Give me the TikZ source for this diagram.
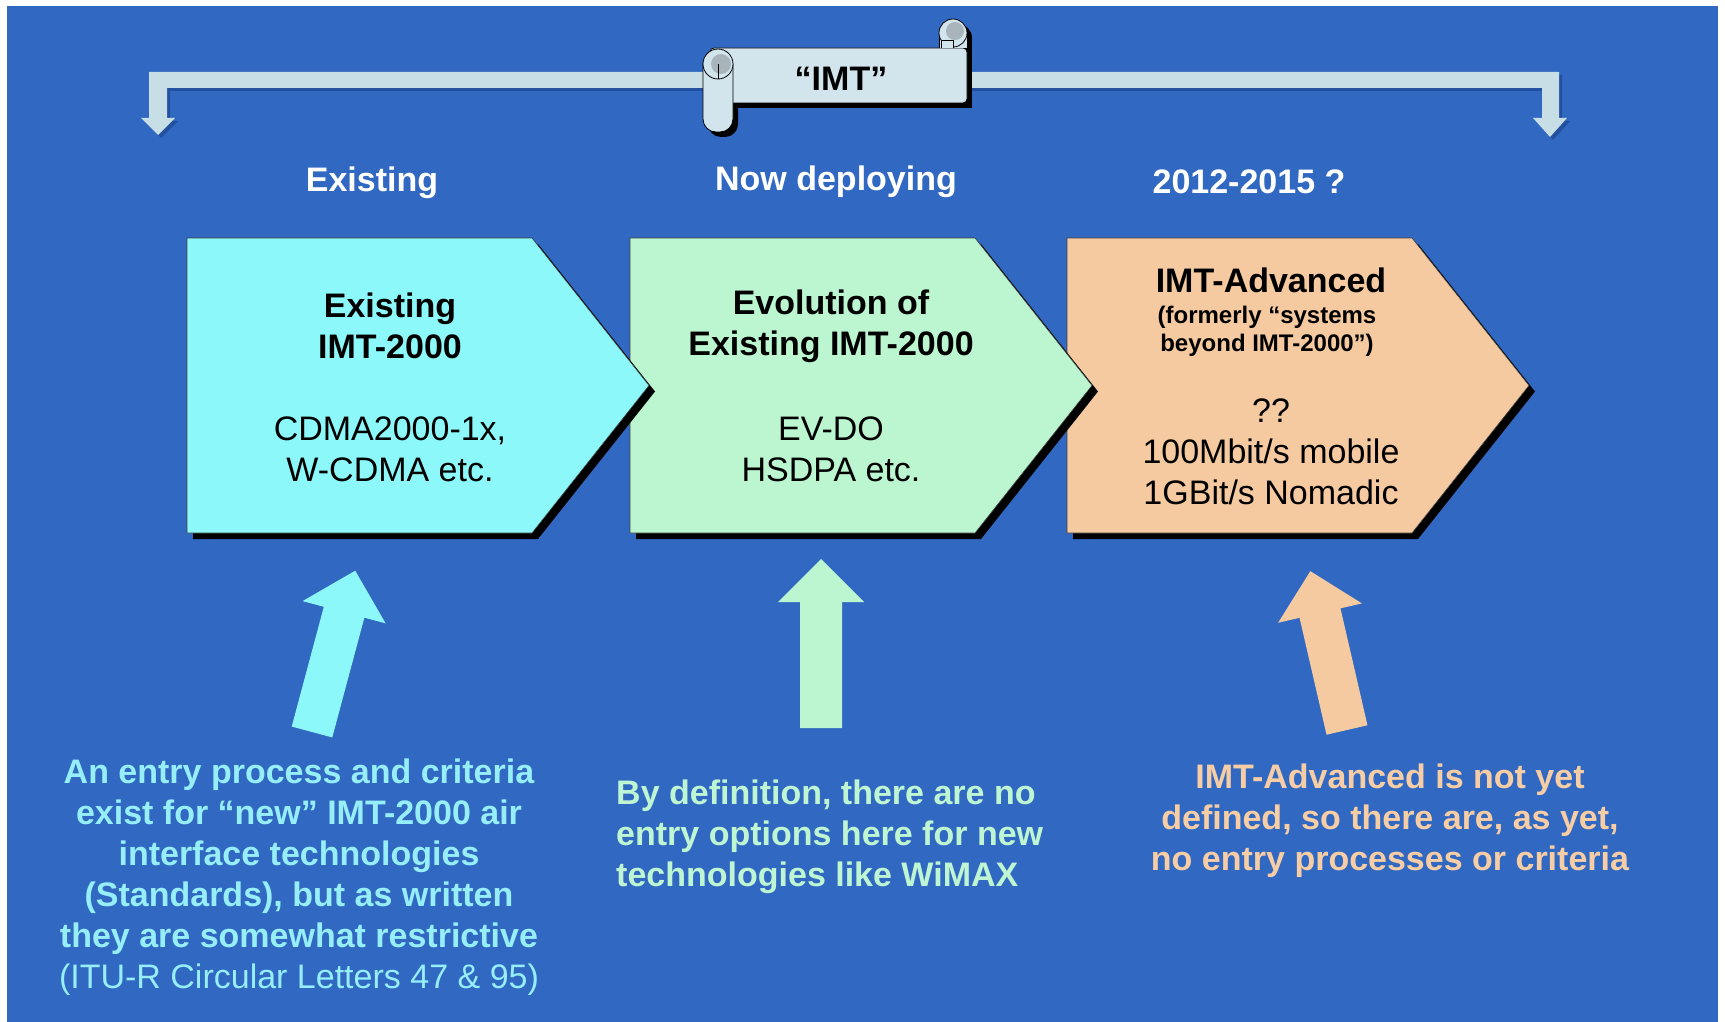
\documentclass[tikz,border=0pt]{standalone}
\usepackage{fontspec}
\setmainfont{Liberation Sans}
\definecolor{bg}{RGB}{49,104,193}
\definecolor{cyanf}{RGB}{140,248,250}
\definecolor{greenf}{RGB}{187,246,208}
\definecolor{peachf}{RGB}{246,202,160}
\definecolor{barc}{RGB}{200,222,230}
\definecolor{barsh}{RGB}{36,80,160}
\definecolor{scrollf}{RGB}{210,228,236}
\definecolor{rollg}{RGB}{168,180,186}
\definecolor{cyant}{RGB}{150,238,248}
\definecolor{greent}{RGB}{190,245,210}
\definecolor{peacht}{RGB}{246,205,165}
\newcommand\bigf{\fontsize{34}{41}\selectfont}
\newcommand\smallf{\fontsize{24}{28}\selectfont}
\newcommand\chevshape[2]{%
  \fill[black] (#1+6,244) -- ++(345,0) -- ++(117,147.5) -- ++(-117,147.5) -- ++(-345,0) -- cycle;
  \filldraw[fill=#2, draw=black!75, line width=0.6pt] (#1,238) -- ++(345,0) -- ++(117,147.5) -- ++(-117,147.5) -- ++(-345,0) -- cycle;}
\newcommand\uparr[5]{%
  \begin{scope}[shift={(#1,#2)},rotate=#3]
  \fill[#5] (-21,0) -- (-21,-#4+43) -- (-43,-#4+43) -- (0,-#4) -- (43,-#4+43) -- (21,-#4+43) -- (21,0) -- cycle;
  \end{scope}}
\begin{document}
\begin{tikzpicture}[x=1pt,y=-1pt,
  head/.style={text=white,font=\bigf\bfseries,inner sep=0pt},
  ttl/.style={text=black,font=\bigf\bfseries,align=center,inner sep=0pt},
  body/.style={text=black,font=\bigf,align=center,inner sep=0pt},
  note/.style={font=\bigf\bfseries,inner sep=0pt}]
\useasboundingbox (0,0) rectangle (1725,1022);
\fill[white] (0,0) rectangle (1725,1022);
\fill[bg] (7,6) rectangle (1718,1022);

% bracket
\fill[barsh] (152,75) -- (1562,75) -- (1562,121) -- (1570,121) -- (1553,140) -- (1536,121) -- (1545,121) -- (1545,91) -- (170,91) -- (170,121) -- (178,121) -- (161,138) -- (144,121) -- (152,121) -- cycle;
\fill[barc] (149,72) -- (1559,72) -- (1559,118) -- (1567,118) -- (1550,137) -- (1533,118) -- (1542,118) -- (1542,88) -- (167,88) -- (167,118) -- (175,118) -- (158,135) -- (141,118) -- (149,118) -- cycle;

% scroll
\begin{scope}[shift={(5,5)}]
\fill[black] (710,48) rectangle (967,103);
\fill[black,rounded corners=13] (703,52) rectangle (733,132);
\fill[black] (939,33) rectangle (967,48);
\fill[black] (953,33) circle (14);
\end{scope}
\filldraw[fill=scrollf,draw=black,line width=0.8pt,rounded corners=4] (710,48) rectangle (967,103);
\filldraw[fill=scrollf,draw=black,line width=0.8pt] (939,48) -- (939,33) -- (967,33) -- (967,48);
\filldraw[fill=scrollf,draw=black,line width=0.8pt] (953,33) circle (14);
\fill[rollg] (955,31) circle (9);
\filldraw[fill=scrollf,draw=black,line width=0.8pt] (941,48) -- (941,40) -- (953,40) -- (953,48);
\filldraw[fill=scrollf,draw=black,line width=0.8pt,rounded corners=13] (703,52) rectangle (733,132);
\filldraw[fill=scrollf,draw=black,line width=0.8pt] (718,64) circle (15);
\fill[rollg] (721,64) circle (10);
\draw[black,line width=0.8pt] (718,64) -- (718,79);
\node[ttl] (imt) at (841,79) {“IMT”};

% headings
\node[head] (h1) at (372,183) {Existing};
\node[head] (h2) at (836,182) {Now deploying};
\node[head] (h3) at (1249,182) {2012-2015 ?};

% chevrons
\chevshape{1067}{peachf}
\chevshape{630}{greenf}
\chevshape{187}{cyanf}

\node[ttl] (c1t) at (390,326) {Existing\\IMT-2000};
\node[body] (c1b) at (390,449) {CDMA2000-1x,\\W-CDMA etc.};
\node[ttl] (c2t) at (831,326) {Evolution of\\Existing IMT-2000};
\node[body] (c2b) at (831,449) {EV-DO\\HSDPA etc.};
\node[ttl] (c3t) at (1271,280) {IMT-Advanced};
\node[ttl,font=\smallf\bfseries] (c3s) at (1267,331) {(formerly “systems\\beyond IMT-2000”)};
\node[body] (c3b) at (1271,452) {??\\100Mbit/s mobile\\1GBit/s Nomadic};

% up arrows
\uparr{312}{732}{-15}{167}{cyanf}
\uparr{821}{728}{0}{169}{greenf}
\uparr{1347}{730}{13}{163}{peachf}

% notes
\node[note,text=cyant,align=center] (n1) at (299,877) {An entry process and criteria\\exist for “new” IMT-2000 air\\interface technologies\\(Standards), but as written\\they are somewhat restrictive\\\mdseries(ITU-R Circular Letters 47 \& 95)};
\node[note,text=greent,align=left,anchor=west] (n2) at (616,837) {By definition, there are no\\entry options here for new\\technologies like WiMAX};
\node[note,text=peacht,align=center] (n3) at (1390,821) {IMT-Advanced is not yet\\defined, so there are, as yet,\\no entry processes or criteria};
\end{tikzpicture}
\end{document}
